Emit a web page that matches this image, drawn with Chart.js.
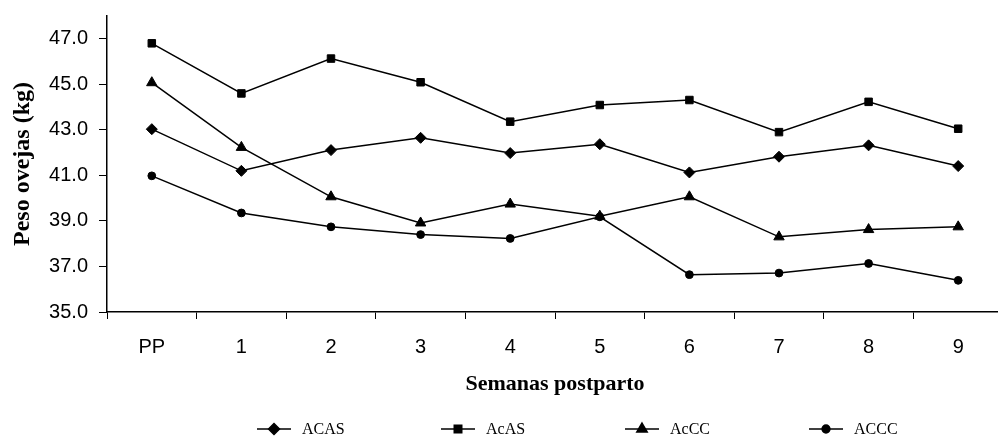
<!DOCTYPE html>
<html>
<head>
<meta charset="utf-8">
<script src="https://cdn.jsdelivr.net/npm/chart.js@4.4.1/dist/chart.umd.min.js"></script>
<style>
html, body { margin: 0; padding: 0; overflow: hidden; background: #fff; }
#wrap { width: 998px; height: 437px; overflow: hidden; position: relative; }
canvas { display: block; }
</style>
</head>
<body>
<div id="wrap"><canvas id="c" width="1010" height="437" style="width:1010px;height:437px"></canvas></div>
<script>
// ---- data ----
const categories = ['PP', '1', '2', '3', '4', '5', '6', '7', '8', '9'];
const ACAS = [43.03, 41.20, 42.11, 42.65, 41.98, 42.37, 41.13, 41.82, 42.32, 41.41];
const AcAS = [46.80, 44.60, 46.13, 45.09, 43.36, 44.09, 44.31, 42.90, 44.23, 43.05];
const AcCC = [45.07, 42.23, 40.06, 38.91, 39.74, 39.21, 40.06, 38.30, 38.62, 38.74];
const ACCC = [40.98, 39.35, 38.74, 38.40, 38.23, 39.18, 36.64, 36.71, 37.13, 36.39];
const yTicks = [35, 37, 39, 41, 43, 45, 47];
const seriesNames = ['ACAS', 'AcAS', 'AcCC', 'ACCC'];

const INK = '#000';
function ds(label, data, style, radius) {
  return {
    label, data,
    borderColor: INK, backgroundColor: INK,
    borderWidth: 1.5, tension: 0,
    pointStyle: style, pointRadius: radius, pointHoverRadius: radius,
    pointBackgroundColor: INK, pointBorderColor: INK, pointBorderWidth: 1
  };
}

const legendPlugin = {
  id: 'excelLegend',
  afterDraw(chart) {
    const ctx = chart.ctx;
    const area = chart.chartArea;
    const y = 429;
    const start = area.left + 150;
    const step = 184;
    ctx.save();
    ctx.font = '16px "Liberation Serif", "Times New Roman", serif';
    ctx.fillStyle = INK;
    ctx.textBaseline = 'middle';
    chart.data.datasets.forEach((d, i) => {
      const x0 = start + i * step;
      ctx.strokeStyle = INK;
      ctx.lineWidth = 1.5;
      ctx.beginPath();
      ctx.moveTo(x0, y);
      ctx.lineTo(x0 + 34, y);
      ctx.stroke();
      ctx.fillStyle = INK;
      Chart.helpers.drawPoint(ctx, { pointStyle: d.pointStyle, radius: d.pointRadius, rotation: 0, borderWidth: 1 }, x0 + 17, y);
      ctx.fillStyle = INK;
      ctx.fillText(d.label, x0 + 45, y + 1);
    });
    ctx.restore();
  }
};

new Chart(document.getElementById('c'), {
  type: 'line',
  data: {
    labels: categories,
    datasets: [
      ds(seriesNames[0], ACAS, 'rectRot', 5.5),
      ds(seriesNames[1], AcAS, 'rect', 5.3),
      ds(seriesNames[2], AcCC, 'triangle', 6),
      ds(seriesNames[3], ACCC, 'circle', 3.9)
    ]
  },
  options: {
    responsive: false,
    animation: false,
    devicePixelRatio: 1,
    layout: { padding: { top: 16, right: 1, bottom: 0, left: 0 } },
    plugins: { legend: { display: false }, tooltip: { enabled: false } },
    scales: {
      x: {
        type: 'category',
        offset: true,
        grid: { offset: true, drawOnChartArea: false, drawTicks: true, tickLength: 7, color: INK, lineWidth: 1 },
        border: { color: INK, width: 1.5 },
        ticks: { color: INK, font: { family: '"Liberation Sans", Arial, sans-serif', size: 20 }, padding: 16, maxRotation: 0, autoSkip: false },
        title: { display: true, text: 'Semanas postparto', color: INK,
                 font: { family: '"Liberation Serif", "Times New Roman", serif', size: 22, weight: 'bold' },
                 padding: { top: 0, bottom: 39 } },
        afterFit(scale) { scale.height = 125; }
      },
      y: {
        min: 35, max: 48,
        grid: { drawOnChartArea: false, drawTicks: true, tickLength: 8, color: INK, lineWidth: 1 },
        border: { color: INK, width: 1.5 },
        ticks: { color: INK, font: { family: '"Liberation Sans", Arial, sans-serif', size: 20 }, padding: 11,
                 callback: v => Number(v).toFixed(1) },
        afterBuildTicks(scale) { scale.ticks = yTicks.map(v => ({ value: v })); },
        title: { display: true, text: 'Peso ovejas (kg)', color: INK,
                 font: { family: '"Liberation Serif", "Times New Roman", serif', size: 24, weight: 'bold' },
                 padding: { top: 8, bottom: 0 } },
        afterFit(scale) { scale.width = 107; scale.paddingTop = 0; scale.paddingBottom = 0; }
      }
    }
  },
  plugins: [legendPlugin]
});
</script>
</body>
</html>
